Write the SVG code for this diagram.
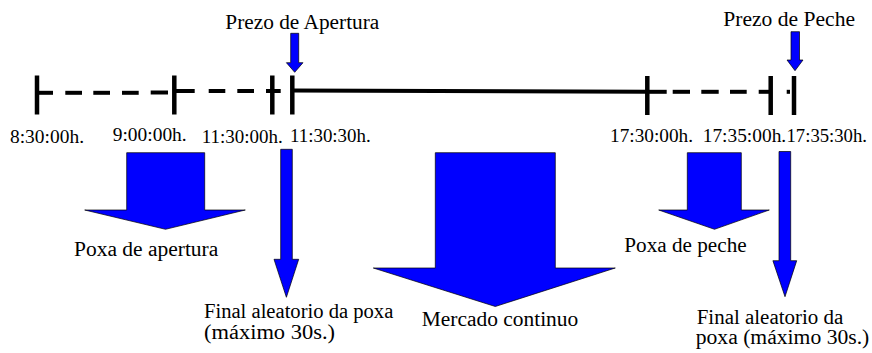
<svg xmlns="http://www.w3.org/2000/svg" width="872" height="353" viewBox="0 0 872 353" font-family="'Liberation Serif', 'Times New Roman', 'DejaVu Serif', serif">
<defs>
<style>
.tick{stroke:#000;stroke-width:4.5;fill:none}
.ln{stroke:#000;stroke-width:4;fill:none}
.arr{fill:#0000FF;stroke:#000;stroke-width:0.7;stroke-linejoin:miter}
text{font-family:'Liberation Serif','Times New Roman','DejaVu Serif',serif;fill:#000}
.t{font-size:19.5px}
.l{font-size:20px}
</style>
</defs>
<rect width="872" height="353" fill="#fff"/>
<g id="connectors">
<g id="timeline-lines">
<line class="ln" x1="37" y1="92.8" x2="53" y2="92.8"/>
<line class="ln" x1="65.3" y1="92.8" x2="82" y2="92.8"/>
<line class="ln" x1="93.3" y1="92.8" x2="110" y2="92.8"/>
<line class="ln" x1="122" y1="92.8" x2="138.7" y2="92.8"/>
<line class="ln" x1="150.7" y1="92.5" x2="168" y2="92.5"/>
<line class="ln" x1="174" y1="91" x2="194.7" y2="91"/>
<line class="ln" x1="208.7" y1="91" x2="225.3" y2="91"/>
<line class="ln" x1="237.3" y1="91" x2="254" y2="91"/>
<line class="ln" x1="266" y1="91" x2="280.7" y2="91"/>
<line class="ln" x1="292" y1="90.6" x2="647" y2="91.8"/>
<line class="ln" x1="647" y1="91.8" x2="666.7" y2="91.8"/>
<line class="ln" x1="672.7" y1="91.8" x2="690" y2="91.8"/>
<line class="ln" x1="701.3" y1="91.8" x2="718.7" y2="91.8"/>
<line class="ln" x1="730" y1="91.8" x2="746.7" y2="91.8"/>
<line class="ln" x1="758.7" y1="91.8" x2="770" y2="91.8"/>
<line class="ln" x1="786.7" y1="91.8" x2="790" y2="91.8"/>
</g>
</g>
<g id="tick-0830"><line class="tick" x1="37" y1="75.5" x2="37" y2="114.5"/><text class="t" x="10" y="143.3" textLength="74" lengthAdjust="spacingAndGlyphs">8:30:00h.</text></g>
<g id="tick-0900"><line class="tick" x1="174.3" y1="75.5" x2="174.3" y2="114.5"/><text class="t" x="112.7" y="141" textLength="74" lengthAdjust="spacingAndGlyphs">9:00:00h.</text></g>
<g id="tick-1130"><line class="tick" x1="272.3" y1="75.5" x2="272.3" y2="114.5"/><text class="t" x="201.7" y="143.3" textLength="81" lengthAdjust="spacingAndGlyphs">11:30:00h.</text></g>
<g id="tick-113030"><line class="tick" x1="292.3" y1="75.5" x2="292.3" y2="114.5"/><text class="t" x="290" y="141.7" textLength="80.7" lengthAdjust="spacingAndGlyphs">11:30:30h.</text></g>
<g id="tick-1730"><line class="tick" x1="647.3" y1="76" x2="647.3" y2="115"/><text class="t" x="610" y="141.5" textLength="83" lengthAdjust="spacingAndGlyphs">17:30:00h.</text></g>
<g id="tick-1735"><line class="tick" x1="770.7" y1="76" x2="770.7" y2="115"/><text class="t" x="702.7" y="141.5" textLength="83.5" lengthAdjust="spacingAndGlyphs">17:35:00h.</text></g>
<g id="tick-173530"><line class="tick" x1="794" y1="76" x2="794" y2="115"/><text class="t" x="786.5" y="141.5" textLength="80.5" lengthAdjust="spacingAndGlyphs">17:35:30h.</text></g>

<g id="prezo-apertura">
<text class="l" x="225.3" y="28.5" textLength="154" lengthAdjust="spacingAndGlyphs">Prezo de Apertura</text>
<polygon class="arr" points="290.7,33.3 298.7,33.3 298.7,62.7 303,62.7 294.7,72.3 286.4,62.7 290.7,62.7"/>
</g>
<g id="prezo-peche">
<text class="l" x="723.3" y="25.5" textLength="131.7" lengthAdjust="spacingAndGlyphs">Prezo de Peche</text>
<polygon class="arr" points="791,31.7 799.5,31.7 799.5,60 803,60 795,70.7 787,60 791,60"/>
</g>
<g id="poxa-apertura">
<polygon class="arr" points="126.7,152.7 204.7,152.7 204.7,210 245.3,210 165.5,229.3 84.7,210 126.7,210"/>
<text class="l" x="74" y="256" textLength="144.3" lengthAdjust="spacingAndGlyphs">Poxa de apertura</text>
</g>
<g id="final-aleatorio-1">
<polygon class="arr" points="280.7,149.3 292.3,149.3 292.3,259.3 298.7,259.3 286.4,297.3 274,259.3 280.7,259.3"/>
<text class="l" x="204" y="318" textLength="189.3" lengthAdjust="spacingAndGlyphs">Final aleatorio  da poxa</text>
<text class="l" x="204" y="338.5" textLength="131" lengthAdjust="spacingAndGlyphs">(máximo 30s.)</text>
</g>
<g id="mercado-continuo">
<polygon class="arr" points="435.3,152.7 555.3,152.7 555.3,268 615.3,268 495.3,306.5 373.3,268 435.3,268"/>
<text class="l" x="421.7" y="326" textLength="156.6" lengthAdjust="spacingAndGlyphs">Mercado continuo</text>
</g>
<g id="poxa-peche">
<polygon class="arr" points="687.3,152.7 741.3,152.7 741.3,210 769.3,210 714.5,229.3 658.7,210 687.3,210"/>
<text class="l" x="624.3" y="251.7" textLength="122.4" lengthAdjust="spacingAndGlyphs">Poxa de peche</text>
</g>
<g id="final-aleatorio-2">
<polygon class="arr" points="779,151.5 790.7,151.5 790.7,260.7 796.7,260.7 785,296.7 772.9,260.7 779,260.7"/>
<text class="l" x="696.7" y="323.5" textLength="146.6" lengthAdjust="spacingAndGlyphs">Final aleatorio  da</text>
<text class="l" x="695.7" y="343.5" textLength="173.6" lengthAdjust="spacingAndGlyphs">poxa (máximo 30s.)</text>
</g>
</svg>
